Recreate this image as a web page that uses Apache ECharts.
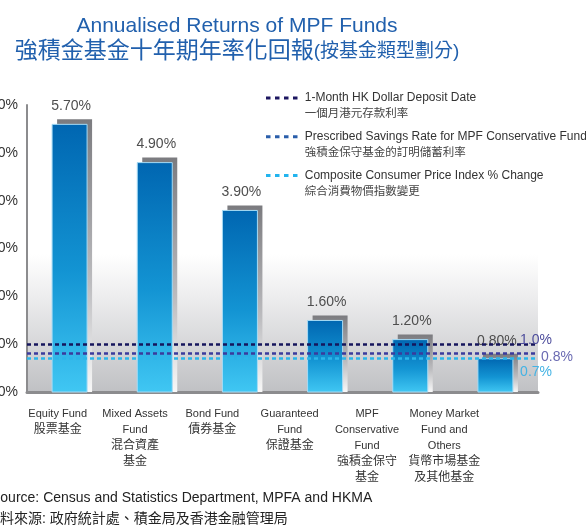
<!DOCTYPE html>
<html>
<head>
<meta charset="utf-8">
<title>強積金基金十年期年率化回報</title>
<script src="https://cdn.jsdelivr.net/npm/echarts@6/dist/echarts.min.js"></script>
<style>
    html, body { margin: 0; padding: 0; background: #fff; }
    #main { width: 586px; height: 528px; }
</style>
</head>
<body>
<div id="main"></div>
<script>
    // 基金類別 (英文 / 中文)
    var fundNames = [
        'Equity Fund\n股票基金',
        'Mixed Assets\nFund\n混合資產\n基金',
        'Bond Fund\n債券基金',
        'Guaranteed\nFund\n保證基金',
        'MPF\nConservative\nFund\n強積金保守\n基金',
        'Money Market\nFund and\nOthers\n貨幣市場基金\n及其他基金'
    ];
    // 十年期年率化回報 (%)
    var fundReturns = [5.7, 4.9, 3.9, 1.6, 1.2, 0.8];

    // 參考利率
    var refNames = [
        '1-Month HK Dollar Deposit Date\n一個月港元存款利率',
        'Prescribed Savings Rate for MPF Conservative Fund\n強積金保守基金的訂明儲蓄利率',
        'Composite Consumer Price Index % Change\n綜合消費物價指數變更'
    ];
    var refValues = [1.0, 0.8, 0.7];
    var refColors = ['#16165c', '#3b3b9d', '#2cb6ea'];
    var refIconColors = ['#1c1660', '#2a5eaa', '#22b4ee'];
    var refLabelColors = ['#4d4d9c', '#6a6ab2', '#44b3e4'];

    // y 軸刻度
    var yMin = 0, yMax = 6, yStep = 1;

    var font = "'Liberation Sans', 'Noto Sans CJK TC', sans-serif";

    var blueFill = new echarts.graphic.LinearGradient(0, 0, 0, 1, [
        {offset: 0, color: '#0066b1'},
        {offset: 0.55, color: '#1394d3'},
        {offset: 1, color: '#40c7f3'}
    ]);
    var shadeFill = new echarts.graphic.LinearGradient(0, 0, 0, 1, [
        {offset: 0, color: '#7b7b7f'},
        {offset: 0.6, color: '#bcbcbf'},
        {offset: 1, color: '#f8f8f8'}
    ]);

    function renderBar(params, api) {
        var val = api.value(1);
        var top = api.coord([api.value(0), val]);
        var base = api.coord([api.value(0), 0]);
        var w = 35;
        var x = top[0] - w / 2;
        var h = base[1] - top[1];
        return {
            type: 'group',
            children: [
                {type: 'rect', shape: {x: x + 5, y: top[1], width: w, height: h},
                    style: {fill: shadeFill}},
                {type: 'rect', shape: {x: x, y: top[1] + 5, width: w, height: h - 5},
                    style: {fill: blueFill, stroke: '#a6dbf5', lineWidth: 1}},
                {type: 'text', x: top[0] + 1.5, y: top[1] - 13,
                    style: {text: val.toFixed(2) + '%', align: 'center', verticalAlign: 'middle',
                        fill: '#4e4e4e', font: '14px ' + font}}
            ]
        };
    }

    function xLabel(v) {
        return v.split('\n').map(function (line) {
            return /[\u4e00-\u9fff]/.test(line) ? '{zh|' + line + '}' : '{en|' + line + '}';
        }).join('\n');
    }

    // 標籤位置 (線上 / 線右 / 線下)
    var refLabelPos = [
        {distance: 14, align: 'right', verticalAlign: 'bottom', lineHeight: 8},
        {distance: 3, align: 'left', verticalAlign: 'top', lineHeight: 6},
        {distance: 14, align: 'right', verticalAlign: 'top', lineHeight: 27}
    ];

    var refSeries = refNames.map(function (name, i) {
        return {
            name: name,
            type: 'line',
            data: [],
            xAxisIndex: 0,
            yAxisIndex: 0,
            itemStyle: {color: refColors[i]},
            lineStyle: {color: refColors[i]},
            markLine: {
                silent: true,
                symbol: ['none', 'none'],
                lineStyle: {color: refColors[i], type: [4, 3], width: 2.5},
                label: {
                    position: 'end',
                    distance: refLabelPos[i].distance,
                    align: refLabelPos[i].align,
                    verticalAlign: refLabelPos[i].verticalAlign,
                    lineHeight: refLabelPos[i].lineHeight,
                    color: refLabelColors[i],
                    fontSize: 14,
                    fontFamily: font,
                    formatter: refValues[i].toFixed(1) + '%'
                },
                data: [{yAxis: refValues[i]}]
            }
        };
    });

    var chart = echarts.init(document.getElementById('main'));
    chart.setOption({
        animation: false,
        textStyle: {fontFamily: font},
        title: [
            {text: 'Annualised Returns of MPF Funds', left: 237, top: 16, textAlign: 'center', padding: 0,
                textStyle: {fontSize: 21, fontWeight: 'normal', color: '#2160ad'}},
            {text: '{a|強積金基金十年期年率化回報}{b|(按基金類型劃分)}', left: 237, top: 40,
                textAlign: 'center', padding: 0,
                textStyle: {fontWeight: 'normal', rich: {
                    a: {fontSize: 23, fontWeight: 'normal', color: '#2160ad', fontFamily: font},
                    b: {fontSize: 19, fontWeight: 'normal', color: '#2160ad', fontFamily: font}
                }}},
            {text: 'Source: Census and Statistics Department, MPFA and HKMA', left: -9, top: 491, padding: 0,
                textStyle: {fontSize: 14, fontWeight: 'normal', color: '#222'}},
            {text: '資料來源: 政府統計處、積金局及香港金融管理局', left: -14, top: 512, padding: 0,
                textStyle: {fontSize: 14, fontWeight: 'normal', color: '#222'}}
        ],
        legend: {
            data: refNames.map(function (name, i) {
                return {name: name, itemStyle: {color: refIconColors[i]}};
            }),
            orient: 'vertical',
            left: 266,
            top: 92,
            padding: 0,
            itemGap: 11,
            itemWidth: 32,
            itemHeight: 3,
            selectedMode: false,
            icon: 'path://M0 0h4.5v3h-4.5z M9 0h4.5v3h-4.5z M18 0h4.5v3h-4.5z M27 0h4.5v3h-4.5z',
            formatter: function (name) {
                var p = name.split('\n');
                return '{en|' + p[0] + '}\n{zh|' + p[1] + '}';
            },
            textStyle: {
                padding: [16, 0, 0, 2],
                rich: {
                    en: {fontSize: 12, lineHeight: 16, color: '#333', fontFamily: font},
                    zh: {fontSize: 11.5, lineHeight: 16, color: '#444', fontFamily: font}
                }
            }
        },
        grid: [
            {left: 27, right: 48, top: 105, bottom: 136, show: true, borderWidth: 0,
                outerBoundsMode: 'none',
                backgroundColor: new echarts.graphic.LinearGradient(0, 0, 0, 1, [
                    {offset: 0, color: '#ffffff'},
                    {offset: 0.52, color: '#ffffff'},
                    {offset: 0.66, color: '#eeeeef'},
                    {offset: 1, color: '#c0c1c4'}
                ])},
            {left: 19, right: 103, top: 105, bottom: 136, outerBoundsMode: 'none'}
        ],
        xAxis: [
            {type: 'category', gridIndex: 0, data: fundNames,
                axisLine: {lineStyle: {color: '#8c8c8e', width: 3}},
                axisTick: {show: false}, axisLabel: {show: false}},
            {type: 'category', gridIndex: 1, data: fundNames,
                axisLine: {show: false}, axisTick: {show: false},
                axisLabel: {
                    interval: 0, margin: 14, formatter: xLabel,
                    rich: {
                        en: {fontSize: 11, lineHeight: 16, color: '#333', align: 'center', fontFamily: font},
                        zh: {fontSize: 12, lineHeight: 16, color: '#333', align: 'center', fontFamily: font}
                    }
                }}
        ],
        yAxis: [
            {type: 'value', gridIndex: 0, min: yMin, max: yMax, interval: yStep,
                axisLine: {show: true, lineStyle: {color: '#8c8c8e', width: 2}},
                axisTick: {show: false},
                splitLine: {show: false},
                axisLabel: {margin: 9, fontSize: 14, color: '#333',
                    formatter: function (v) { return v.toFixed(1) + '%'; }}},
            {type: 'value', gridIndex: 1, min: yMin, max: yMax, show: false}
        ],
        series: [{
            type: 'custom',
            name: 'returns',
            xAxisIndex: 0,
            yAxisIndex: 0,
            silent: true,
            renderItem: renderBar,
            encode: {x: 0, y: 1},
            data: fundReturns.map(function (v, i) { return [i, v]; }),
            z: 2
        }].concat(refSeries)
    });
</script>
</body>
</html>
